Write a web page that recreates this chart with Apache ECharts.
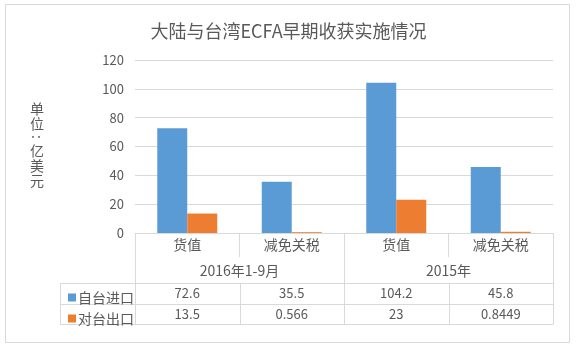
<!DOCTYPE html>
<html>
<head>
<meta charset="utf-8">
<script src="https://cdn.jsdelivr.net/npm/echarts@6/dist/echarts.min.js"></script>
<style>
  html, body { margin: 0; padding: 0; background: #fff; }
  #chart { width: 577px; height: 350px; }
</style>
</head>
<body>
<div id="chart"></div>
<script>
// Categories along the bottom, two periods each
const categories = ['货值', '减免关税', '货值', '减免关税'];
const groups = ['2016年1-9月', '2015年'];
const seriesNames = ['自台进口', '对台出口'];
// Values in 亿美元
const importValues = [72.6, 35.5, 104.2, 45.8];
const exportValues = [13.5, 0.566, 23, 0.8449];
const importLabels = ['72.6', '35.5', '104.2', '45.8'];
const exportLabels = ['13.5', '0.566', '23', '0.8449'];
const yTicks = [0, 20, 40, 60, 80, 100, 120];

const FONT = '"Noto Sans CJK SC", "Microsoft YaHei", sans-serif';
const TEXT = '#595959';
const LINE = '#d9d9d9';
const COLORS = ['#5B9BD5', '#ED7D31'];

const chart = echarts.init(document.getElementById('chart'), null, { renderer: 'canvas' });

const option = {
  backgroundColor: '#fff',
  animation: false,
  color: COLORS,
  textStyle: { fontFamily: FONT },
  title: {
    text: '大陆与台湾ECFA早期收获实施情况',
    left: 'center',
    top: 17,
    textStyle: { fontFamily: FONT, fontSize: 18, fontWeight: 'normal', color: TEXT }
  },
  legend: {
    orient: 'vertical',
    left: 63,
    top: 285,
    itemWidth: 8,
    itemHeight: 8,
    itemGap: 6,
    icon: 'rect',
    data: seriesNames,
    textStyle: { fontFamily: FONT, fontSize: 14, color: TEXT, lineHeight: 15, padding: [0, 0, 0, -3] }
  },
  grid: { left: 135, right: 24, top: 60, bottom: 117 },
  xAxis: {
    type: 'category',
    data: categories,
    axisLine: { lineStyle: { color: LINE, width: 1 } },
    axisTick: { show: true, length: 24, interval: 0, lineStyle: { color: LINE } },
    axisLabel: { fontFamily: FONT, fontSize: 14, color: TEXT, margin: 5, interval: 0 }
  },
  yAxis: {
    type: 'value',
    min: yTicks[0],
    max: yTicks[yTicks.length - 1],
    interval: yTicks[1] - yTicks[0],
    axisLine: { show: false },
    axisTick: { show: false },
    splitLine: { lineStyle: { color: LINE, width: 1 } },
    axisLabel: { fontFamily: FONT, fontSize: 13, color: TEXT, margin: 11 }
  },
  series: [
    { name: seriesNames[0], type: 'bar', data: importValues, barWidth: 30, barGap: '0%' },
    { name: seriesNames[1], type: 'bar', data: exportValues, barWidth: 30, barGap: '0%' }
  ]
};

chart.setOption(option);

// Build the data table and frame underneath the plot from the axis positions
const c0 = chart.convertToPixel({ xAxisIndex: 0 }, 0);
const c1 = chart.convertToPixel({ xAxisIndex: 0 }, 1);
const band = c1 - c0;
const left = c0 - band / 2;
const bounds = [];
for (let i = 0; i <= categories.length; i++) bounds.push(left + band * i);
const yBase = chart.convertToPixel({ yAxisIndex: 0 }, 0);
const right = bounds[bounds.length - 1];

const rowTop = yBase + 50;
const rowH = 20.7;
const tableLeft = 60;
const tableBottom = rowTop + rowH * 2;

const lineStyle = { stroke: LINE, lineWidth: 1 };
const g = [];

// chart frame
g.push({ type: 'rect', shape: { x: 5.5, y: 4.5, width: 564, height: 338 }, style: { fill: null, stroke: LINE, lineWidth: 1 }, silent: true });

// vertical unit label: upright characters, colon turned sideways
const unitStyle = { fontFamily: FONT, fontSize: 14, lineHeight: 15, fill: TEXT, align: 'center', verticalAlign: 'middle' };
g.push({ type: 'text', x: 37, y: 116, style: Object.assign({ text: '单\n位' }, unitStyle) });
g.push({ type: 'text', x: 37, y: 137, rotation: -Math.PI / 2, style: Object.assign({ text: ':' }, unitStyle) });
g.push({ type: 'text', x: 37, y: 166, style: Object.assign({ text: '亿\n美\n元' }, unitStyle) });

function vline(x, y1, y2) {
  x = Math.round(x) + 0.5;
  g.push({ type: 'line', shape: { x1: x, y1: y1, x2: x, y2: y2 }, style: lineStyle, silent: true });
}
function hline(y, x1, x2) {
  y = Math.round(y) + 0.5;
  g.push({ type: 'line', shape: { x1: x1, y1: y, x2: x2, y2: y }, style: lineStyle, silent: true });
}

// group separators run the full table height
[0, 2, 4].forEach(i => vline(bounds[i], yBase, tableBottom));
// category separators inside the data rows
[1, 3].forEach(i => vline(bounds[i], rowTop, tableBottom));
vline(tableLeft, rowTop, tableBottom);
[rowTop, rowTop + rowH, tableBottom].forEach(y => hline(y, tableLeft, right));

// period labels
groups.forEach((name, gi) => {
  const cx = (bounds[gi * 2] + bounds[gi * 2 + 2]) / 2;
  g.push({
    type: 'text', x: cx, y: yBase + 38,
    style: { text: name, fontFamily: FONT, fontSize: 14, fill: TEXT, align: 'center', verticalAlign: 'middle' }
  });
});

// value rows
[importLabels, exportLabels].forEach((labels, ri) => {
  labels.forEach((txt, ci) => {
    g.push({
      type: 'text', x: (bounds[ci] + bounds[ci + 1]) / 2, y: rowTop + rowH * ri + rowH / 2,
      style: { text: txt, fontFamily: FONT, fontSize: 13, fill: TEXT, align: 'center', verticalAlign: 'middle' }
    });
  });
});

chart.setOption({ graphic: { elements: g } });
</script>
</body>
</html>
